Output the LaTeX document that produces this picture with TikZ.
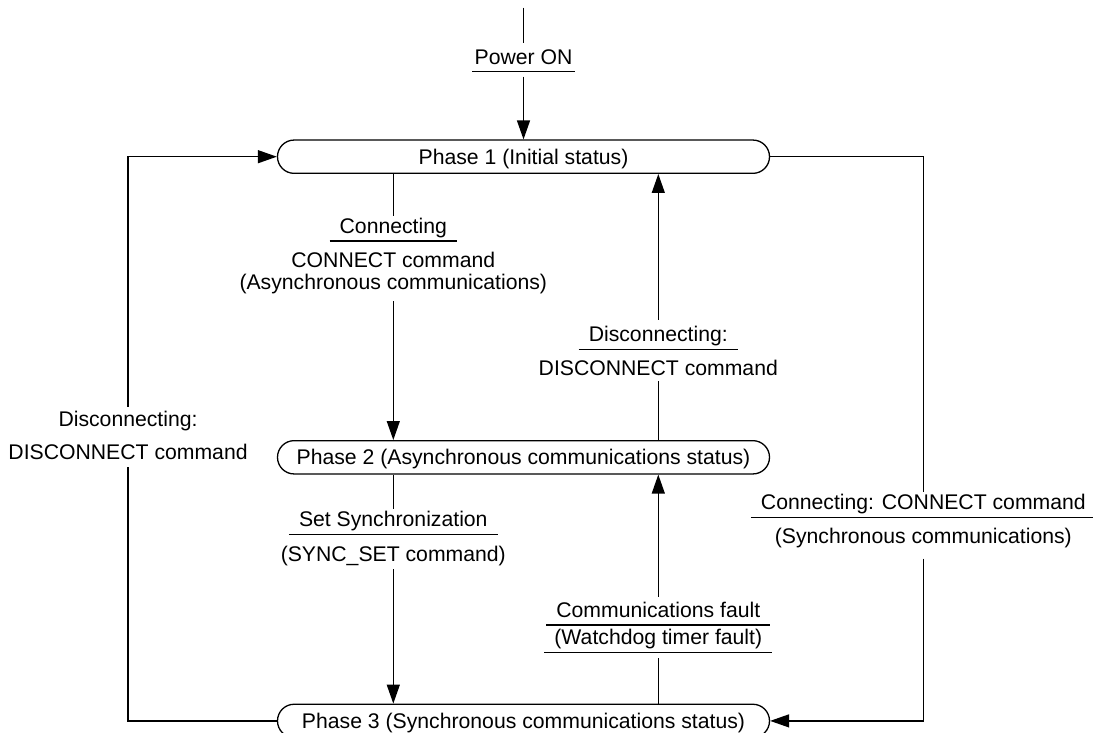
\documentclass[tikz,border=0pt]{standalone}
\usepackage{fontspec}
\setmainfont{Liberation Sans}
\usetikzlibrary{arrows.meta,positioning}

\begin{document}
\begin{tikzpicture}[auto,node distance=1cm,>={Triangle[length=9.5pt,width=6.5pt]},line width=0.65pt,font=\fontsize{10.6}{12.7}\selectfont]
\tikzset{
state/.style = {draw, rounded corners=8.3pt, minimum width=246pt, minimum height=16.65pt, inner sep=0pt, text height=0.75em, text depth=0pt},
textline/.style = {inner sep=0pt, text height=0.75em, text depth=0.25em},
ruled/.style = {textline, inner xsep=4.75pt, inner ysep=1pt}
}
\useasboundingbox (0,0) rectangle (546.5pt,-366.5pt);

\node [state] (phase1) at (261.75pt,-78.35pt) {Phase 1 (Initial status)};
\node [state, below = 133pt of phase1] (phase2) {Phase 2 (Asynchronous communications status)};
\node [state, below = 114.5pt of phase2] (phase3) {Phase 3 (Synchronous communications status)};

\node [ruled, inner xsep=0.75pt, above = 33.85pt of phase1] (poweron) {Power ON};
\coordinate [above = 19.4pt of poweron] (supply);

\node [ruled, below = 20.9pt of phase1.south, xshift=-65.1pt] (connasync) {Connecting};
\node [textline, below = 5.25pt of connasync] (connasynccmd) {CONNECT command};
\node [textline, below = 0.55pt of connasynccmd] (connasyncmode) {(Asynchronous communications)};

\node [textline, above = 29.5pt of phase2.north, xshift=67.4pt] (disccmd) {DISCONNECT command};
\node [ruled, above = 5.05pt of disccmd] (disc) {Disconnecting:};

\node [ruled, below = 17.2pt of phase2.south, xshift=-65.1pt] (syncset) {Set Synchronization};
\node [textline, below = 5.9pt of syncset] (syncsetcmd) {(SYNC\_SET command)};

\node [ruled, above = 25.55pt of phase3.north, xshift=67.4pt] (watchdog) {(Watchdog timer fault)};
\node [ruled, above = 1.05pt of watchdog] (commfault) {Communications fault};

\coordinate [left = 74.4pt of phase1.west] (leftcorner);
\node [textline, below = 127.05pt of leftcorner] (discall) {Disconnecting:};
\node [textline, below = 5.7pt of discall] (discallcmd) {DISCONNECT command};

\coordinate [right = 76.6pt of phase1.east] (rightcorner);
\node [ruled, below = 167.7pt of rightcorner] (connsync) {Connecting: CONNECT command};
\node [textline, below = 5.05pt of connsync] (connsyncmode) {(Synchronous communications)};

\draw [shorten >=1.5pt] (supply) -- (poweron);
\draw (poweron.south west) -- (poweron.south east);
\draw [->, shorten <=2.5pt] (poweron) -- (phase1);

\draw (phase1.south -| connasync.north) -- (connasync);
\draw (connasync.south west) -- (connasync.south east);
\draw [->, shorten <=2.85pt] (connasyncmode) -- (connasyncmode.south |- phase2.north);

\draw (phase2.north -| disccmd.south) -- (disccmd);
\draw (disc.south west) -- (disc.south east);
\draw [->, shorten <=2.25pt] (disc) -- (disc.north |- phase1.south);

\draw (phase2.south -| syncset.north) -- (syncset);
\draw (syncset.south west) -- (syncset.south east);
\draw [->, shorten <=1pt] (syncsetcmd) -- (syncsetcmd.south |- phase3.north);

\draw [shorten >=2.7pt] (phase3.north -| watchdog.south) -- (watchdog);
\draw (watchdog.south west) -- (watchdog.south east);
\draw (commfault.south west) -- (commfault.south east);
\draw [->, shorten <=1.5pt] (commfault) -- (commfault.north |- phase2.south);

\draw [->, shorten <=2pt] (discall.north) -- (leftcorner) -- (phase1.west);
\draw [shorten >=1pt] (phase3.west) -| (discallcmd.south);

\draw (phase1.east) -- (rightcorner) -- (connsync.north);
\draw (connsync.south west) -- (connsync.south east);
\draw [->, shorten <=4.85pt] (connsyncmode.south) |- (phase3.east);
\end{tikzpicture}
\end{document}
